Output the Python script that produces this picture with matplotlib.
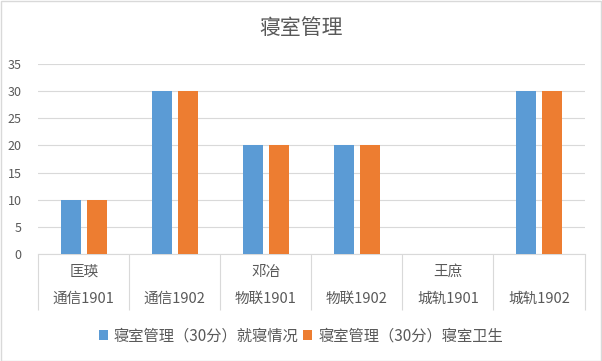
import matplotlib

matplotlib.use("Agg")
import matplotlib.pyplot as plt
import numpy as np
from matplotlib.patches import Rectangle

plt.rcParams["font.family"] = ["Noto Sans CJK SC", "DejaVu Sans"]

# data
names = ["匡瑛", "", "邓冶", "", "王庶", ""]
classes = ["通信1901", "通信1902", "物联1901", "物联1902", "城轨1901", "城轨1902"]
series_names = ["寝室管理（30分）就寝情况", "寝室管理（30分）寝室卫生"]
sleep_scores = [10, 30, 20, 20, 0, 30]
hygiene_scores = [10, 30, 20, 20, 0, 30]

BLUE = "#5B9BD5"
ORANGE = "#ED7D31"
TEXT = "#595959"
GRID = "#D9D9D9"

fig = plt.figure(figsize=(6.02, 3.61), dpi=100)
fig.patches.append(Rectangle((0.001, 0.001), 0.997, 0.996, transform=fig.transFigure,
                             fill=False, edgecolor=GRID, linewidth=1))
ax = fig.add_axes([0.0635, 0.2964, 0.9075, 0.5262])

x = np.arange(len(classes))
w = 0.22
ax.bar(x - 0.143, sleep_scores, w, color=BLUE, label=series_names[0], zorder=3)
ax.bar(x + 0.143, hygiene_scores, w, color=ORANGE, label=series_names[1], zorder=3)

ax.set_xlim(-0.5, len(classes) - 0.5)
ax.set_ylim(0, 35)
ax.set_yticks(range(0, 36, 5))
ax.yaxis.grid(True, color=GRID, linewidth=0.8, zorder=0)
ax.tick_params(axis="y", length=0, colors=TEXT, labelsize=9, pad=12)
ax.set_xticks([])
for side in ["top", "right", "left"]:
    ax.spines[side].set_visible(False)
ax.spines["bottom"].set_color(GRID)

# category dividers below the axis
tr = ax.get_xaxis_transform()
ax.vlines(np.arange(len(classes) + 1) - 0.5, -0.295, 0, transform=tr,
          colors=GRID, linewidth=0.8, clip_on=False)
for i in range(len(classes)):
    if names[i]:
        ax.text(i, -0.095, names[i], transform=tr, ha="center", va="center",
                fontsize=10.5, color=TEXT)
    ax.text(i, -0.237, classes[i], transform=tr, ha="center", va="center",
            fontsize=10.5, color=TEXT)

fig.text(0.5, 1 - 28 / 361, "寝室管理", ha="center", va="center", fontsize=15, color=TEXT)

fig.legend(loc="center", bbox_to_anchor=(0.5, 1 - 336 / 361), ncol=2, frameon=False,
           fontsize=11, labelcolor=TEXT, handlelength=0.6, handleheight=0.6,
           handletextpad=0.4, columnspacing=0.3)

fig.savefig("out.png", dpi=100)
